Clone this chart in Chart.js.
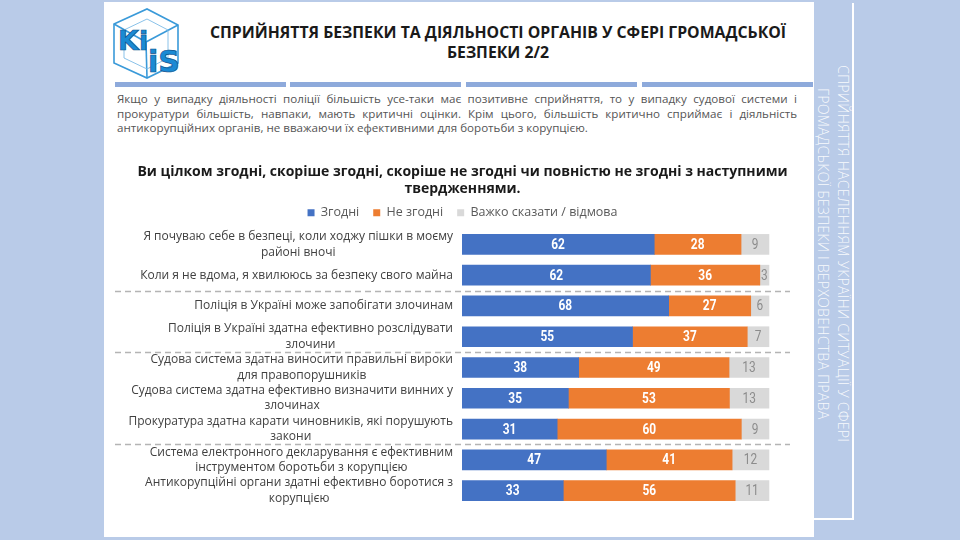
<!DOCTYPE html>
<html lang="uk">
<head>
<meta charset="utf-8">
<script src="https://cdn.jsdelivr.net/npm/chart.js@4"></script>
<style>
  html, body { margin: 0; padding: 0; }
  body { width: 960px; height: 540px; background: #b9cbe8; position: relative; overflow: hidden; font-family: "Open Sans", sans-serif; }
  #page { position: absolute; left: 104px; top: 2px; width: 710px; height: 535px; background: #fff; }
  #frameV { position: absolute; left: 852px; top: 3px; width: 1.5px; height: 516px; background: #fff; }
  #frameH { position: absolute; left: 814px; top: 518px; width: 40px; height: 1.5px; background: #fff; }
  .side { position: absolute; transform: rotate(90deg); transform-origin: top left; white-space: nowrap;
          color: rgba(255,255,255,0.9); font-size: 14.2px; line-height: 17px; font-weight: 300; letter-spacing: 0.2px; }
  #logo { position: absolute; left: 110px; top: 6px; }
  #title { position: absolute; left: 180px; top: 22px; width: 636px; text-align: center; font-weight: bold;
           font-size: 15.8px; line-height: 20px; color: #1a1a1a; }
  .sep { position: absolute; top: 82px; height: 4.5px; width: 171px; background: #8eaadb; }
  #para { position: absolute; left: 117px; top: 92px; width: 680px; font-size: 11.6px; line-height: 14.5px; color: #555; }
  #para div { text-align: justify; text-align-last: justify; }
  #para div.last { text-align-last: left; }
  #wrap { position: absolute; left: 110px; top: 164px; width: 705px; height: 350px; }
</style>
</head>
<body>
<div id="page"></div>
<div id="frameV"></div>
<div id="frameH"></div>
<div class="side" style="left:852px; top:65px;">СПРИЙНЯТТЯ НАСЕЛЕННЯМ УКРАЇНИ СИТУАЦІЇ У СФЕРІ</div>
<div class="side" style="left:832px; top:88px;">ГРОМАДСЬКОЇ БЕЗПЕКИ І ВЕРХОВЕНСТВА ПРАВА</div>

<svg id="logo" width="74" height="76" viewBox="0 0 74 76">
  <g fill="none" stroke="#3a9ad9" stroke-width="1.6">
    <polygon points="4,18 37,3 68,19 68,57 37,72 4,57"/>
    <line x1="4" y1="18" x2="36" y2="36"/>
    <line x1="36" y1="36" x2="68" y2="19"/>
    <line x1="36" y1="36" x2="37" y2="72"/>
    <polygon points="14,24 37,13 58,24 58,52 37,63 14,52" stroke-width="0.9" stroke="#7dbbe6"/>
  </g>
  <text x="8" y="44" font-family="DejaVu Sans" font-weight="bold" font-size="27" fill="#1a8ad4" stroke="#0d4f8b" stroke-width="0.7">Ki</text>
  <text x="38" y="66" font-family="DejaVu Sans" font-weight="bold" font-size="30" fill="#1a8ad4" stroke="#0d4f8b" stroke-width="0.7">iS</text>
</svg>

<div id="title">СПРИЙНЯТТЯ БЕЗПЕКИ ТА ДІЯЛЬНОСТІ ОРГАНІВ У СФЕРІ ГРОМАДСЬКОЇ<br>БЕЗПЕКИ 2/2</div>

<div class="sep" style="left:115px"></div>
<div class="sep" style="left:290px"></div>
<div class="sep" style="left:466px"></div>
<div class="sep" style="left:642px"></div>

<div id="para">
  <div>Якщо у випадку діяльності поліції більшість усе-таки має позитивне сприйняття, то у випадку судової системи і</div>
  <div>прокуратури більшість, навпаки, мають критичні оцінки. Крім цього, більшість критично сприймає і діяльність</div>
  <div class="last">антикорупційних органів, не вважаючи їх ефективними для боротьби з корупцією.</div>
</div>

<div id="wrap"><canvas id="chart" width="705" height="350"></canvas></div>

<script>
const chartTitle = ["Ви цілком згодні, скоріше згодні, скоріше не згодні чи повністю не згодні з наступними", "твердженнями."];
const seriesNames = ["Згодні", "Не згодні", "Важко сказати / відмова"];
const seriesColors = ["#4472c4", "#ed7d31", "#d9d9d9"];

const categories = [
  ["Я почуваю себе в безпеці, коли ходжу пішки в моєму", "районі вночі"],
  ["Коли я не вдома, я хвилююсь за безпеку свого майна"],
  ["Поліція в Україні може запобігати злочинам"],
  ["Поліція в Україні здатна ефективно розслідувати", "злочини"],
  ["Судова система здатна виносити правильні вироки", "для правопорушників"],
  ["Судова система здатна ефективно визначити винних у", "злочинах"],
  ["Прокуратура здатна карати чиновників, які порушують", "закони"],
  ["Система електронного декларування є ефективним", "інструментом боротьби з корупцією"],
  ["Антикорупційні органи здатні ефективно боротися з", "корупцією"]
];
const agree = [62, 62, 68, 55, 38, 35, 31, 47, 33];
const disagree = [28, 36, 27, 37, 49, 53, 60, 41, 56];
const hardToSay = [9, 3, 6, 7, 13, 13, 9, 12, 11];

// dashed lines go between these rows
const groupBreaks = [2, 4, 7];

// 100% stacked, like the Excel original
function share(arr) {
  return arr.map((v, i) => v / (agree[i] + disagree[i] + hardToSay[i]) * 100);
}

const rowLabels = {
  id: "rowLabels",
  afterDraw(chart) {
    const ctx = chart.ctx;
    const yScale = chart.scales.y;
    const area = chart.chartArea;
    ctx.save();

    ctx.strokeStyle = "#b4b4b4";
    ctx.lineWidth = 1.5;
    ctx.setLineDash([6, 4]);
    groupBreaks.forEach(i => {
      const py = Math.round((yScale.getPixelForValue(i - 1) + yScale.getPixelForValue(i)) / 2) + 0.5;
      ctx.beginPath();
      ctx.moveTo(5, py);
      ctx.lineTo(680, py);
      ctx.stroke();
    });
    ctx.setLineDash([]);

    ctx.font = '12px "Open Sans"';
    ctx.fillStyle = "#404040";
    ctx.textAlign = "center";
    ctx.textBaseline = "middle";
    categories.forEach((lines, i) => {
      const w = Math.max(...lines.map(l => ctx.measureText(l).width));
      const cx = area.left - 9 - w / 2;
      const cy = yScale.getPixelForValue(i);
      lines.forEach((l, k) => ctx.fillText(l, cx, cy + (k - (lines.length - 1) / 2) * 15.5));
    });

    // values in the bars, squeezed a bit to look like the narrow original font
    chart.data.datasets.forEach((ds, d) => {
      ctx.font = (d < 2 ? "bold " : "") + "14px Roboto";
      ctx.fillStyle = d < 2 ? "#ffffff" : "#8c8c8c";
      chart.getDatasetMeta(d).data.forEach((bar, i) => {
        const p = bar.getProps(["x", "base", "y"], true);
        ctx.save();
        ctx.translate((p.x + p.base) / 2, p.y + 1);
        ctx.scale(0.85, 1);
        ctx.fillText(ds.values[i], 0, 0);
        ctx.restore();
      });
    });
    ctx.restore();
  }
};

const raw = [agree, disagree, hardToSay];

new Chart(document.getElementById("chart"), {
  type: "bar",
  data: {
    labels: categories.map(c => c.join(" ")),
    datasets: seriesNames.map((name, d) => ({
      label: name,
      data: share(raw[d]),
      values: raw[d],
      backgroundColor: seriesColors[d],
      borderWidth: 0,
      barThickness: 20
    }))
  },
  options: {
    indexAxis: "y",
    responsive: false,
    animation: false,
    layout: { padding: { left: 0, right: 0, top: 0, bottom: 8 } },
    scales: {
      // hidden axis runs past 100 so the bars stop short of the canvas edge
      x: { stacked: true, min: 0, max: 115, display: false },
      y: {
        stacked: true,
        grid: { display: false },
        border: { display: false },
        ticks: { display: false },
        afterFit(scale) { scale.width = 352; }
      }
    },
    plugins: {
      title: {
        display: true,
        text: chartTitle,
        color: "#1a1a1a",
        font: { family: "Open Sans", size: 14, weight: "bold", lineHeight: "17px" },
        padding: { top: 0, bottom: -5.5 }
      },
      legend: {
        position: "top",
        labels: {
          boxWidth: 7,
          boxHeight: 7,
          padding: 14,
          color: "#595959",
          font: { family: "Open Sans", size: 12.5 }
        }
      },
      tooltip: { enabled: false }
    }
  },
  plugins: [rowLabels]
});
</script>
</body>
</html>
